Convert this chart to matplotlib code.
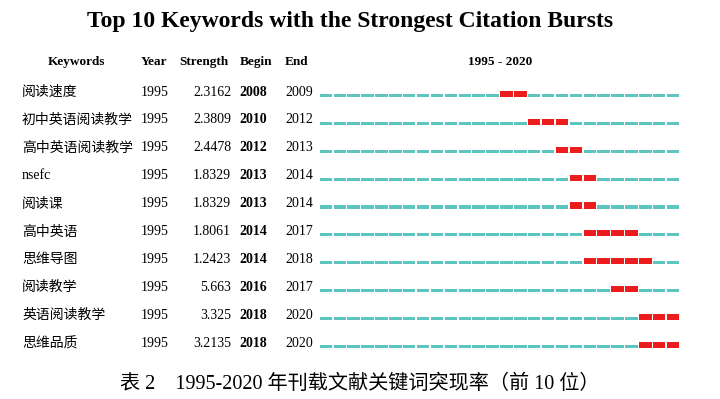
import numpy as np
import matplotlib.pyplot as plt

# dados da tabela
keywords = ['阅读速度', '初中英语阅读教学', '高中英语阅读教学', 'nsefc', '阅读课',
            '高中英语', '思维导图', '阅读教学', '英语阅读教学', '思维品质']
year = [1995] * 10
strength = ['2.3162', '2.3809', '2.4478', '1.8329', '1.8329',
            '1.8061', '1.2423', '5.663', '3.325', '3.2135']
begin = [2008, 2010, 2012, 2013, 2013, 2014, 2014, 2016, 2018, 2018]
end = [2009, 2012, 2013, 2014, 2014, 2017, 2018, 2017, 2020, 2020]
anos = np.arange(1995, 2021)

serif = ['Liberation Serif', 'Noto Sans CJK SC']
cjk = ['Noto Sans CJK SC', 'DejaVu Sans']
ciano = '#5ec4bf'
vermelho = '#ec1c1c'

fig = plt.figure(figsize=(7.2, 3.99), dpi=100)
fig.patch.set_facecolor('white')

# eixo de fundo em pixels, so para os textos
ax0 = fig.add_axes([0, 0, 1, 1])
ax0.set_xlim(0, 720)
ax0.set_ylim(399, 0)
ax0.axis('off')

ax0.text(350, 22, 'Top 10 Keywords with the Strongest Citation Bursts', family=serif,
         fontsize=17, weight='bold', ha='center', va='center')

yh = 62
ax0.text(76, yh, 'Keywords', family=serif, fontsize=9.5, weight='bold', ha='center', va='center')
ax0.text(141, yh, 'Year', family=serif, fontsize=9.5, weight='bold', ha='left', va='center')
ax0.text(179, yh, 'Strength', family=serif, fontsize=9.5, weight='bold', ha='left', va='center')
ax0.text(240, yh, 'Begin', family=serif, fontsize=9.5, weight='bold', ha='left', va='center')
ax0.text(285, yh, 'End', family=serif, fontsize=9.5, weight='bold', ha='left', va='center')
ax0.text(500, yh, '1995 - 2020', family=serif, fontsize=9.5, weight='bold', ha='center', va='center')

passo = 27.9
for i in range(len(keywords)):
    y = 92 + passo * i
    fam = serif if keywords[i].isascii() else cjk
    ax0.text(22, y, keywords[i], family=fam, fontsize=10, ha='left', va='center')
    ax0.text(141, y, str(year[i]), family=serif, fontsize=10, ha='left', va='center')
    ax0.text(231, y, strength[i], family=serif, fontsize=10, ha='right', va='center')
    ax0.text(239, y, str(begin[i]), family=serif, fontsize=10, weight='bold', ha='left', va='center')
    ax0.text(285, y, str(end[i]), family=serif, fontsize=10, ha='left', va='center')

ax0.text(360, 384, '表 2　1995-2020 年刊载文献关键词突现率（前 10 位）', family=serif,
         fontsize=14.5, ha='center', va='center')

# eixo das barras: x em anos, y em linhas
topo = 95 - passo / 2
base = 95 + passo * 9.5
ax = fig.add_axes([319 / 720, 1 - base / 399, 361 / 720, (base - topo) / 399])
ax.set_xlim(anos[0] - 0.05, anos[-1] + 0.95)
ax.set_ylim(9.5, -0.5)
ax.axis('off')

for i in range(len(keywords)):
    burst = (anos >= begin[i]) & (anos <= end[i])
    cores = np.where(burst, vermelho, ciano)
    alturas = np.where(burst, -0.22, -0.11)
    ax.bar(anos, alturas, width=0.9, bottom=i + 0.07, align='edge', color=cores, linewidth=0)

fig.savefig('out.png', dpi=100)
